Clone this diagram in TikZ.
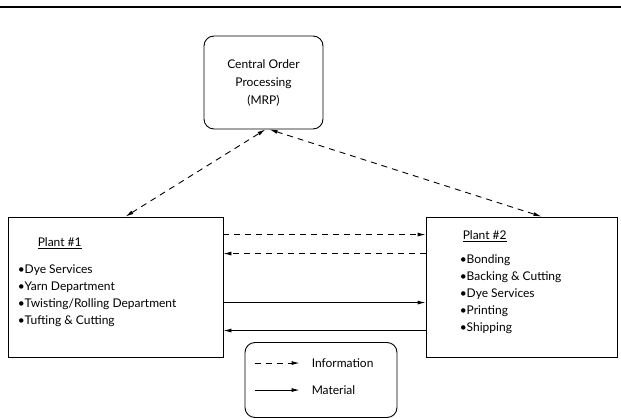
\documentclass[tikz,border=0pt]{standalone}
\usepackage{fontspec}
\setmainfont{Lato}
\usetikzlibrary{positioning, arrows.meta, calc}

\begin{document}
\begin{tikzpicture}[
  x=1pt, y=-1pt,
  >={Latex[length=8pt,width=4pt]},
  every node/.style={font=\fontsize{12}{17}\selectfont},
  plant/.style={draw, line width=0.9pt, minimum height=140pt, inner sep=0pt},
  list/.style={anchor=north west, align=left, inner sep=0pt},
  info/.style={line width=0.9pt, dash pattern=on 6pt off 5pt},
  material/.style={line width=0.9pt}
]
\useasboundingbox (0,0) rectangle (621,419);

% Rule at top
\draw[line width=2.5pt] (0,7) -- (621,7);

% Central order processing
\node[draw, line width=0.9pt, rounded corners=10pt, minimum width=119pt, minimum height=93pt,
  align=center, inner sep=0pt, font=\fontsize{12}{18}\selectfont] (cop) at (263.5,82.5)
  {Central Order\\Processing\\(MRP)};

% Plant 1
\node[plant, minimum width=215pt] (plantA) at (115.5,287) {};
\node[list] (listA) at ([shift={(10,21)}]plantA.north west)
  {\hspace{20pt}\underline{Plant \#1}\\[10pt]
   \textbullet Dye Services\\
   \textbullet Yarn Department\\
   \textbullet Twisting/Rolling Department\\
   \textbullet Tufting \& Cutting};

% Plant 2
\node[plant, minimum width=191pt] (plantB) at (521.5,287) {};
\node[list] (listB) at ([shift={(34,14)}]plantB.north west)
  {\hspace{3pt}\underline{Plant \#2}\\[7pt]
   \textbullet Bonding\\
   \textbullet Backing \& Cutting\\
   \textbullet Dye Services\\
   \textbullet Printing\\
   \textbullet Shipping};

% Information links to central
\draw[info, <->] ([xshift=10pt]plantA.north) -- ([xshift=2pt]cop.south);
\draw[info, <->] ([xshift=6pt]cop.south) -- ([xshift=20pt]plantB.north);

% Between the plants
\draw[info, ->] ([shift={(0,18)}]plantA.north east) -- ([shift={(0,18)}]plantB.north west);
\draw[info, ->] ([shift={(0,37)}]plantB.north west) -- ([shift={(0,37)}]plantA.north east);
\draw[material, ->] ([shift={(0,86)}]plantA.north east) -- ([shift={(0,86)}]plantB.north west);
\draw[material, ->] ([shift={(0,114)}]plantB.north west) -- ([shift={(0,114)}]plantA.north east);

% Legend
\node[draw, line width=0.9pt, rounded corners=10pt, minimum width=152pt, minimum height=75pt,
  inner sep=0pt] (legend) at (321,380) {};
\node[anchor=west, inner sep=0pt] (lgInfo) at ([shift={(67,21)}]legend.north west) {Information};
\node[anchor=west, inner sep=0pt] (lgMat) at ([shift={(67,48)}]legend.north west) {Material};
\draw[info, ->] ([xshift=-57pt]lgInfo.west) -- ([xshift=-12pt]lgInfo.west);
\draw[material, ->] ([xshift=-57pt]lgMat.west) -- ([xshift=-12pt]lgMat.west);

\end{tikzpicture}
\end{document}
